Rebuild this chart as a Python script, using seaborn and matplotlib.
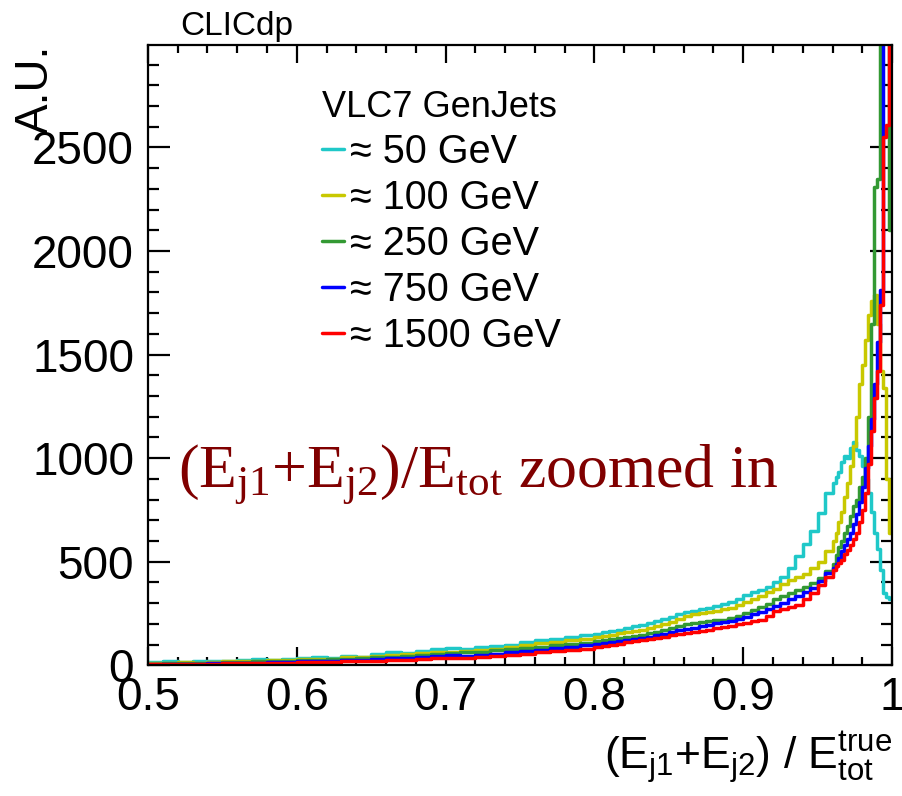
import numpy as np
import pandas as pd
import seaborn as sns
import matplotlib.pyplot as plt
from matplotlib.lines import Line2D
from matplotlib.ticker import MultipleLocator, FuncFormatter

# bin edges: coarse where it is flat, finer towards the peak at 1
edges = np.concatenate([np.linspace(0.50, 0.80, 31)[:-1],
                        np.linspace(0.80, 0.96, 33)[:-1],
                        np.linspace(0.96, 1.00, 21)])
centers = (edges[:-1] + edges[1:]) / 2

labels = ["\u2248 50 GeV", "\u2248 100 GeV", "\u2248 250 GeV", "\u2248 750 GeV", "\u2248 1500 GeV"]
colors = ["#1fc8c8", "#c8c800", "#339933", "#0000ff", "#ff0000"]

# contents per bin (A.U.)
jets_50 = [16, 18, 15, 20, 22, 19, 25, 28, 26, 32,
           35, 38, 36, 45, 42, 55, 64, 60, 68, 78,
           82, 80, 88, 92, 100, 112, 120, 128, 135, 145,
           150, 158, 165, 172, 180, 190, 196, 205, 215, 222, 235, 245, 255, 262, 270, 278,
           288, 296, 305, 318, 340, 352, 362, 378, 400, 425, 468, 525, 585, 650, 735, 830,
           880, 910, 935, 980, 1010, 1000, 1050, 1080, 1040, 1010,
           960, 900, 830, 740, 640, 560, 460, 350, 330, 320]
jets_100 = [10, 12, 14, 13, 16, 18, 20, 22, 24, 27,
            28, 32, 30, 38, 40, 46, 50, 56, 60, 64,
            66, 70, 74, 80, 88, 98, 106, 112, 120, 128,
            134, 140, 148, 155, 160, 166, 172, 180, 190, 200, 210, 222, 238, 245, 250, 255,
            262, 270, 276, 290, 305, 318, 335, 352, 370, 392, 412, 425, 442, 470, 500, 550,
            600, 640, 690, 740, 810, 880, 960, 1060, 1200, 1360,
            1450, 1570, 1690, 1760, 1790, 1650, 1420, 1340, 900, 640]
jets_250 = [8, 10, 9, 12, 13, 15, 14, 18, 20, 22,
            24, 25, 28, 30, 34, 38, 42, 45, 50, 55,
            58, 62, 66, 72, 78, 85, 90, 96, 102, 108,
            115, 120, 126, 132, 138, 142, 148, 155, 162, 170, 178, 188, 198, 205, 208, 212,
            216, 220, 228, 240, 252, 265, 280, 298, 318, 335, 350, 362, 378, 398, 420, 455,
            490, 530, 570, 600, 640, 670, 720, 770, 800, 860,
            910, 1000, 1200, 1650, 2310, 2350, 3800, 4200, 3900, 2100]
jets_750 = [6, 7, 8, 8, 10, 11, 12, 13, 15, 16,
            18, 20, 22, 24, 27, 30, 33, 36, 40, 46,
            48, 46, 50, 56, 62, 68, 74, 82, 90, 97,
            102, 108, 112, 118, 122, 126, 132, 138, 145, 152, 160, 168, 176, 182, 188, 195,
            202, 208, 215, 225, 235, 245, 258, 272, 288, 300, 318, 335, 355, 375, 405, 445,
            470, 490, 520, 550, 580, 610, 640, 680, 730, 790,
            860, 950, 1060, 1190, 1360, 1560, 1810, 4000, 4200, 3800]
jets_1500 = [5, 6, 6, 7, 8, 9, 9, 10, 12, 13,
             14, 15, 17, 18, 20, 22, 24, 26, 30, 33,
             34, 37, 40, 44, 50, 56, 62, 68, 74, 80,
             86, 92, 98, 104, 110, 116, 122, 126, 132, 138, 144, 150, 154, 160, 166, 172,
             178, 184, 190, 198, 205, 212, 220, 240, 260, 270, 280, 290, 318, 348, 385, 425,
             460, 480, 495, 510, 535, 555, 580, 610, 640, 690,
             750, 830, 970, 1130, 1290, 1420, 1740, 2550, 2610, 4000]

series = [jets_50, jets_100, jets_250, jets_750, jets_1500]

sns.set_style("ticks")
plt.rcParams["font.family"] = ["Liberation Sans", "DejaVu Sans"]
plt.rcParams["mathtext.default"] = "regular"
for key in ["text.color", "axes.labelcolor", "xtick.color", "ytick.color"]:
    plt.rcParams[key] = "black"

fig = plt.figure(figsize=(9.02, 7.96), dpi=100)
ax = fig.add_axes([0.164, 0.1643, 0.825, 0.7792])

for vals, col in zip(series, colors):
    df = pd.DataFrame({"x": centers, "w": vals})
    sns.histplot(data=df, x="x", weights="w", bins=list(edges), element="step",
                 fill=False, color=col, linewidth=2.5, ax=ax)

ax.set_xlim(0.5, 1.0)
ax.set_ylim(0, 2995)

ax.xaxis.set_major_locator(MultipleLocator(0.1))
ax.xaxis.set_minor_locator(MultipleLocator(0.02))
ax.yaxis.set_major_locator(MultipleLocator(500))
ax.yaxis.set_minor_locator(MultipleLocator(100))
ax.xaxis.set_major_formatter(FuncFormatter(lambda v, p: f"{v:g}"))
ax.tick_params(which="both", direction="in", top=True, right=True, width=1.6,
               labelsize=33, color="black", labelcolor="black")
ax.tick_params(axis="x", which="major", length=13, pad=8)
ax.tick_params(axis="x", which="minor", length=6)
ax.tick_params(axis="y", which="major", length=16, pad=10)
ax.tick_params(axis="y", which="minor", length=8)
for s in ax.spines.values():
    s.set_linewidth(1.6)
    s.set_color("black")

ax.set_ylabel("A.U.", fontsize=33, loc="top")
ax.yaxis.set_label_coords(-0.121, 1.0)
ax.set_xlabel(r"(E$_{j1}$+E$_{j2}$) / E$^{true}_{tot}$", fontsize=32, loc="right")
ax.xaxis.set_label_coords(1.0, -0.103)

ax.text(0.043, 1.016, "CLICdp", transform=ax.transAxes, fontsize=24, va="baseline")

ax.text(0.040, 0.2857, r"(E$_{j1}$+E$_{j2}$)/E$_{tot}$ zoomed in", transform=ax.transAxes,
        fontsize=44.5, color="#800000", family="Liberation Serif", va="baseline")

handles = [Line2D([], [], color=c, linewidth=2.5) for c in colors]
leg = ax.legend(handles, labels, title="VLC7 GenJets", loc="upper left",
                bbox_to_anchor=(0.234, 0.927), frameon=False, fontsize=28.5,
                title_fontsize=26, handlelength=0.55, handletextpad=0.15,
                labelspacing=0.2, borderpad=0, borderaxespad=0, alignment="left")

fig.savefig("out.png", dpi=100)
